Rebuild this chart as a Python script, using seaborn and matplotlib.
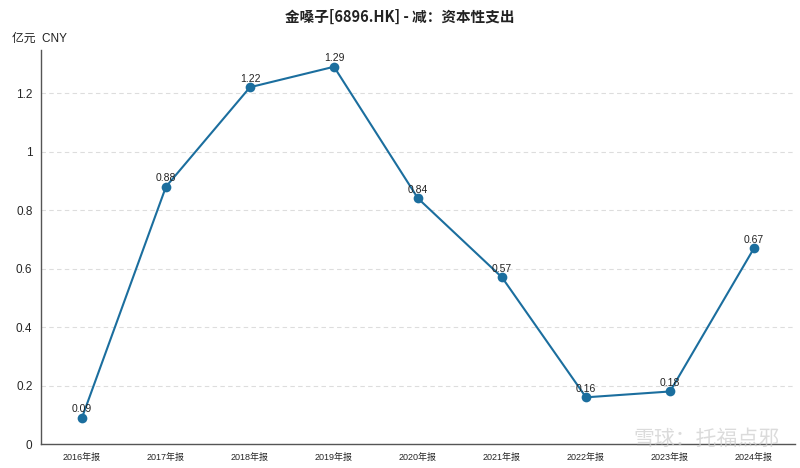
import matplotlib
matplotlib.use("Agg")
import matplotlib.pyplot as plt
import seaborn as sns
import pandas as pd

# --- DATI ---
years = ["2016年报", "2017年报", "2018年报", "2019年报", "2020年报",
         "2021年报", "2022年报", "2023年报", "2024年报"]
capex = [0.09, 0.88, 1.22, 1.29, 0.84, 0.57, 0.16, 0.18, 0.67]
y_ticks = [0, 0.2, 0.4, 0.6, 0.8, 1, 1.2]
y_tick_labels = ["0", "0.2", "0.4", "0.6", "0.8", "1", "1.2"]

title = "金嗓子[6896.HK] - 减：资本性支出"
unit = "亿元  CNY"
LINE_COLOR = "#1b6e9e"

sns.set_style("white")
plt.rcParams["font.family"] = ["Liberation Sans", "Noto Sans CJK SC", "DejaVu Sans"]

df = pd.DataFrame({"year": years, "value": capex})
df["pos"] = range(len(df))

fig = plt.figure(figsize=(8, 4.68), dpi=100)
ax = fig.add_axes([0.051, 0.051, 0.943, 0.842])

sns.lineplot(data=df, x="pos", y="value", ax=ax, color=LINE_COLOR,
             linewidth=1.5, marker="o", markersize=7, markeredgewidth=0,
             zorder=3)

for _, r in df.iterrows():
    ax.annotate(f"{r['value']:.2f}", (r["pos"], r["value"]),
                xytext=(0, 2.5), textcoords="offset points",
                ha="center", va="bottom", fontsize=7.5, color="#222222")

ax.set_xlim(-0.49, len(years) - 0.51)
ax.set_ylim(0, 1.347)
ax.set_xticks(df["pos"])
ax.set_xticklabels(years, fontsize=6.5)
ax.set_yticks(y_ticks)
ax.set_yticklabels(y_tick_labels, fontsize=8.5)
ax.tick_params(axis="both", length=4, width=0.8, color="#555555", pad=2)
ax.set_xlabel("")
ax.set_ylabel("")

ax.yaxis.grid(True, linestyle=(0, (4, 3)), color="#dddddd", linewidth=0.8)
ax.xaxis.grid(False)
for s in ["top", "right"]:
    ax.spines[s].set_visible(False)
for s in ["left", "bottom"]:
    ax.spines[s].set_color("#555555")
    ax.spines[s].set_linewidth(1)

fig.text(0.5, 0.963, title, ha="center", va="center", fontsize=10.5,
         fontweight="bold", color="#222222",
         family=["Noto Sans CJK SC", "DejaVu Sans"])
fig.text(0.015, 0.918, unit, ha="left", va="center", fontsize=8.5,
         color="#222222")

# watermark
fig.text(0.975, 0.062, "雪球：托福点邪", ha="right", va="center",
         fontsize=15, color="#cccccc", alpha=0.7,
         family=["Noto Sans CJK SC"])

fig.savefig("out.png", dpi=100)
